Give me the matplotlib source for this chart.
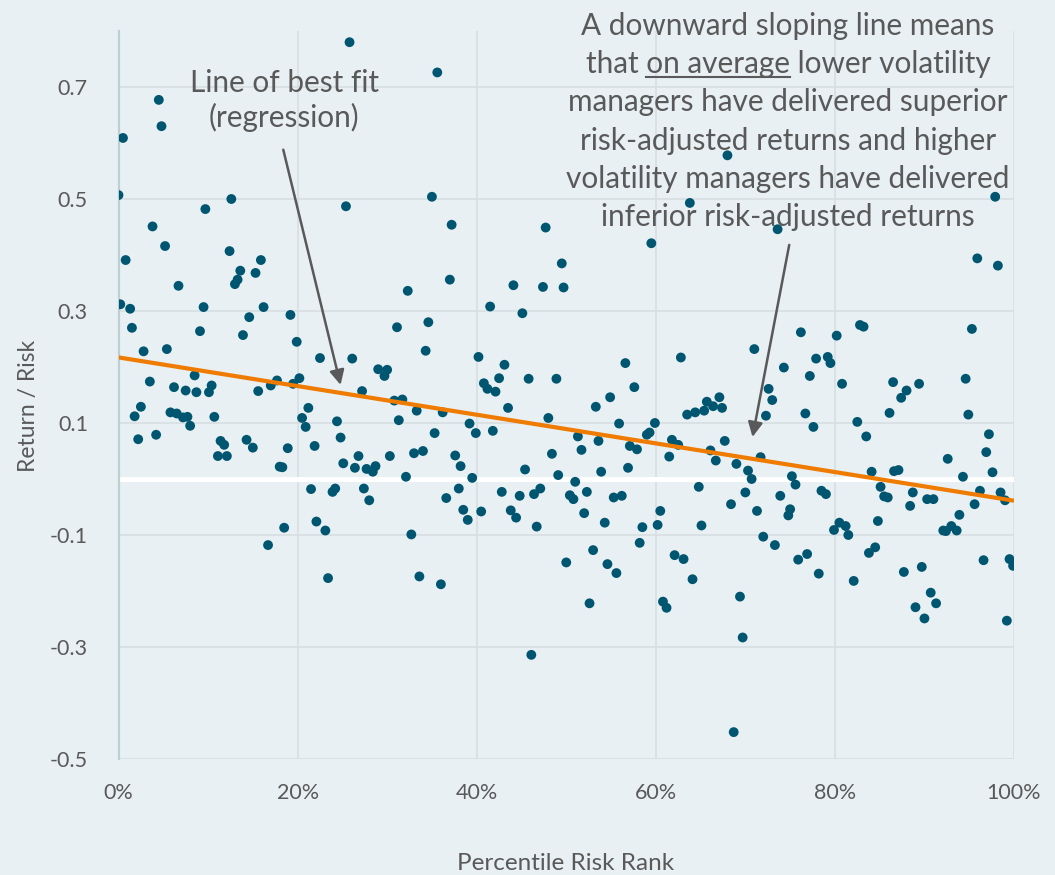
import matplotlib
matplotlib.use("Agg")
import matplotlib.pyplot as plt
import matplotlib.ticker as mticker
from matplotlib.lines import Line2D
import numpy as np

plt.rcParams['font.family'] = ['Lato', 'DejaVu Sans']
plt.rcParams['axes.unicode_minus'] = False

# ── Data: percentile risk rank (%) and return / risk per manager ─────────────
risk_rank = [
    4.5, 4.8, 0.5, 0.0, 12.6, 9.7, 3.8, 5.2, 12.4, 0.8,
    15.9, 13.6, 15.3, 13.3, 13.0, 6.7, 0.2, 1.3, 9.5, 16.2,
    19.2, 1.5, 14.6, 9.1, 13.9, 19.9, 2.8, 5.4, 22.5, 8.5,
    3.5, 6.2, 7.5, 8.7, 10.1, 10.4, 15.6, 17.0, 17.7, 19.5,
    20.2,
    2.5, 1.8, 5.8, 6.5, 7.2, 7.7, 8.0, 10.7, 2.2, 4.2,
    11.4, 11.8, 11.1, 12.1, 14.3, 15.0, 18.9, 18.0, 18.3, 21.2,
    20.5, 20.9, 21.9, 21.5, 22.1, 23.1, 18.5, 16.7, 23.4,
    25.8, 35.6, 25.4, 35.0, 37.2, 47.7, 49.5, 37.0, 32.3, 44.1,
    47.4, 49.7, 41.5, 45.1, 31.1, 34.6, 34.3, 26.1, 40.2, 43.1,
    29.0, 30.0, 29.7, 42.5, 45.8, 48.9, 40.8, 41.2, 42.1, 27.2,
    30.8, 31.7,
    33.3, 36.2, 24.4, 24.8, 31.3, 35.3, 39.2, 39.9, 41.8, 43.5,
    48.0, 48.4, 49.1, 25.1, 26.8, 26.4, 27.7, 28.4, 28.7, 30.3,
    33.0, 34.0, 32.1, 37.6, 38.2, 39.5, 45.4, 23.9, 24.2, 27.4,
    28.0, 36.6, 38.0, 38.5, 39.0, 40.5, 42.8, 43.8, 44.4, 44.8,
    46.4, 47.1, 46.7, 32.7, 33.6, 36.0, 46.1,
    68.0, 63.8, 73.6, 59.5, 71.0, 62.8, 56.6, 74.3, 57.6, 54.9,
    72.6, 67.1, 65.7, 73.0,
    53.3, 55.9, 59.9, 59.0, 59.3, 63.5, 64.4, 65.4, 66.4, 67.4,
    72.3, 51.3, 51.7, 53.6, 57.1, 57.9, 61.8, 62.5, 61.5, 66.1,
    66.7, 67.7, 69.0, 70.3, 70.7, 71.7, 75.2, 53.9, 56.9, 51.0,
    50.4, 50.8, 52.3, 55.3, 56.2, 52.0, 54.3, 58.5, 60.5, 60.2,
    64.8, 65.1, 68.4, 70.0, 71.3, 73.9, 75.0, 74.8, 72.0, 73.3,
    58.2, 50.0, 53.0, 54.6, 55.6, 62.1, 63.1, 64.1, 52.6, 60.8,
    61.2, 69.4, 69.7, 68.7,
    97.9, 95.9, 98.2, 76.2, 80.2, 82.8, 83.2, 95.3, 77.9, 79.2,
    79.5, 77.2, 80.8, 86.5, 88.0, 87.4, 89.4, 94.6,
    76.7, 77.6, 82.5, 83.5, 86.1, 94.9, 97.2, 96.9, 92.6, 97.6,
    75.6, 84.1, 86.6, 87.1, 94.3, 85.1, 85.5, 85.9, 88.7, 88.4,
    90.3, 91.0, 78.5, 79.0, 96.2, 95.6, 98.5, 99.0, 93.9, 80.5,
    81.2, 79.9, 81.5, 84.8, 92.1, 92.4, 93.0, 93.6, 83.8, 84.5,
    75.9, 76.9, 78.2, 82.1, 87.7, 89.7, 96.6, 99.5, 99.9, 90.7,
    91.3, 89.0, 90.0, 99.2,
]

return_risk = [
    0.677, 0.630, 0.609, 0.507, 0.500, 0.482, 0.451, 0.416, 0.407, 0.391,
    0.391, 0.372, 0.368, 0.356, 0.348, 0.345, 0.312, 0.304, 0.307, 0.307,
    0.293, 0.270, 0.289, 0.264, 0.257, 0.245, 0.228, 0.232, 0.216, 0.185,
    0.174, 0.164, 0.158, 0.155, 0.155, 0.167, 0.157, 0.167, 0.176, 0.170,
    0.180,
    0.129, 0.112, 0.119, 0.117, 0.110, 0.111, 0.095, 0.111, 0.071, 0.079,
    0.068, 0.061, 0.041, 0.041, 0.070, 0.056, 0.055, 0.022, 0.021, 0.127,
    0.109, 0.093, 0.059, -0.018, -0.076, -0.092, -0.087, -0.118, -0.177,
    0.780, 0.726, 0.487, 0.504, 0.454, 0.449, 0.385, 0.356, 0.336, 0.346,
    0.343, 0.342, 0.308, 0.296, 0.271, 0.280, 0.229, 0.215, 0.218, 0.204,
    0.196, 0.195, 0.184, 0.180, 0.179, 0.179, 0.171, 0.161, 0.156, 0.157,
    0.140, 0.142,
    0.122, 0.119, 0.103, 0.074, 0.105, 0.082, 0.099, 0.082, 0.086, 0.127,
    0.109, 0.045, 0.007, 0.028, 0.041, 0.020, 0.018, 0.013, 0.023, 0.041,
    0.046, 0.050, 0.004, 0.042, 0.023, 0.002, 0.017, -0.023, -0.017, -0.017,
    -0.038, -0.034, -0.017, -0.055, -0.073, -0.058, -0.023, -0.056, -0.069, -0.030,
    -0.027, -0.017, -0.085, -0.099, -0.174, -0.188, -0.314,
    0.578, 0.493, 0.446, 0.421, 0.232, 0.217, 0.207, 0.199, 0.164, 0.146,
    0.161, 0.146, 0.138, 0.141,
    0.129, 0.099, 0.100, 0.079, 0.083, 0.115, 0.119, 0.122, 0.130, 0.127,
    0.113, 0.076, 0.052, 0.068, 0.059, 0.053, 0.070, 0.061, 0.040, 0.051,
    0.033, 0.068, 0.027, 0.015, 0.000, 0.039, 0.005, 0.013, 0.020, -0.005,
    -0.029, -0.036, -0.023, -0.033, -0.030, -0.061, -0.078, -0.086, -0.057, -0.082,
    -0.014, -0.083, -0.045, -0.024, -0.057, -0.030, -0.054, -0.065, -0.103, -0.118,
    -0.114, -0.149, -0.127, -0.152, -0.168, -0.136, -0.143, -0.179, -0.222, -0.219,
    -0.230, -0.210, -0.283, -0.452,
    0.504, 0.394, 0.381, 0.262, 0.256, 0.275, 0.272, 0.268, 0.215, 0.218,
    0.207, 0.184, 0.170, 0.173, 0.158, 0.145, 0.170, 0.179,
    0.117, 0.093, 0.102, 0.076, 0.118, 0.115, 0.080, 0.048, 0.036, 0.012,
    -0.010, 0.013, 0.014, 0.016, 0.004, -0.014, -0.031, -0.033, -0.024, -0.048,
    -0.036, -0.036, -0.021, -0.027, -0.021, -0.045, -0.024, -0.038, -0.064, -0.078,
    -0.084, -0.091, -0.100, -0.075, -0.092, -0.093, -0.084, -0.092, -0.132, -0.122,
    -0.144, -0.134, -0.169, -0.182, -0.166, -0.157, -0.145, -0.143, -0.155, -0.203,
    -0.222, -0.229, -0.249, -0.253,
]

Y_TICKS = [-0.5, -0.3, -0.1, 0.1, 0.3, 0.5, 0.7]
X_TICKS = [0, 20, 40, 60, 80, 100]

NOTE_LEFT = ['Line of best fit', '(regression)']
NOTE_RIGHT = [
    'A downward sloping line means',
    'that on average lower volatility',
    'managers have delivered superior',
    'risk-adjusted returns and higher',
    'volatility managers have delivered',
    'inferior risk-adjusted returns',
]
UNDERLINED = 'on average'

# ── Style ──────────────────────────────────────────────────────────────────────
BG = '#E8F0F3'
GRID = '#D6DEE3'
DOT = '#005670'
FIT = '#EF7B00'
TXT = '#595959'
W, H = 1055, 875
NOTE_FS = 21.4

x = np.array(risk_rank)
y = np.array(return_risk)

fig = plt.figure(figsize=(W / 100, H / 100), dpi=100, facecolor=BG)
ax = fig.add_axes([118.5 / W, 1 - 759 / H, (1014 - 118.5) / W, (759 - 31) / H])
ax.set_facecolor(BG)

ax.set_xlim(0, 100)
ax.set_ylim(-0.5, 0.8)
ax.set_xticks(X_TICKS)
ax.set_yticks(Y_TICKS)
ax.xaxis.set_major_formatter(mticker.PercentFormatter(xmax=100, decimals=0))
ax.yaxis.set_major_formatter(mticker.FormatStrFormatter('%.1f'))
ax.tick_params(axis='both', length=0, labelsize=15.5, labelcolor=TXT)
ax.tick_params(axis='y', pad=22)
ax.tick_params(axis='x', pad=17)

ax.grid(True, color=GRID, lw=1.2, zorder=0)
ax.set_axisbelow(True)
for side in ('top', 'right', 'bottom'):
    ax.spines[side].set_visible(False)
ax.spines['left'].set_color('#BFCDD7')
ax.spines['left'].set_linewidth(1.6)

ax.axhline(0, color='white', lw=3.6, zorder=1)

ax.scatter(x, y, s=50, color=DOT, edgecolors='none', zorder=3)

# least-squares trend line
slope, intercept = np.polyfit(x, y, 1)
xf = np.array([0, 100])
ax.plot(xf, intercept + slope * xf, color=FIT, lw=3, zorder=4, solid_capstyle='butt')

# axis titles
fig.text(566 / W, 1 - 863 / H, 'Percentile Risk Rank', ha='center', va='center',
         fontsize=17.5, color=TXT)
fig.text(28 / W, 1 - 406 / H, 'Return / Risk', ha='center', va='center',
         rotation=90, fontsize=16.5, color=TXT)

# ── Annotations ────────────────────────────────────────────────────────────────
for i, line in enumerate(NOTE_LEFT):
    fig.text(284 / W, 1 - (92 + 35 * i) / H, line, ha='center', va='baseline',
             fontsize=NOTE_FS, color=TXT)

right_texts = []
for i, line in enumerate(NOTE_RIGHT):
    t = fig.text(788 / W, 1 - (35 + 38.2 * i) / H, line, ha='center', va='baseline',
                 fontsize=NOTE_FS, color=TXT)
    right_texts.append(t)

# underline "on average" in the second line
fig.canvas.draw()
r = fig.canvas.get_renderer()
t2 = right_texts[1]
bb = t2.get_window_extent(r)


def text_width(s):
    tmp = fig.text(0, 0, s, fontsize=NOTE_FS)
    w = tmp.get_window_extent(r).width
    tmp.remove()
    return w


head = 'that ' + UNDERLINED
w_u = text_width(UNDERLINED)
x0 = bb.x0 + text_width(head) - w_u
base_y = t2.get_position()[1] * H - 4
fig.add_artist(Line2D([x0 / W, (x0 + w_u) / W], [base_y / H, base_y / H],
                      color=TXT, lw=1.5, transform=fig.transFigure))

arrow = dict(arrowstyle='-|>', color=TXT, lw=1.8, mutation_scale=22, shrinkA=0, shrinkB=0)
ax.annotate('', xy=(24.8, 0.168), xytext=(18.4, 0.588), arrowprops=arrow, zorder=5)
ax.annotate('', xy=(70.8, 0.075), xytext=(74.9, 0.418), arrowprops=arrow, zorder=5)

fig.savefig('out.png', dpi=100, facecolor=BG)
